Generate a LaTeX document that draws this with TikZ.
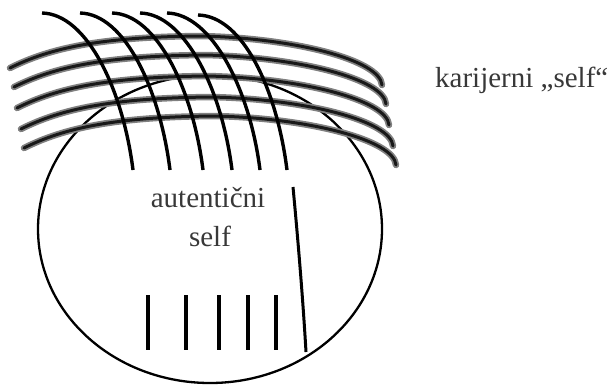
\documentclass[tikz,border=0pt]{standalone}
\usepackage{fontspec}
\setmainfont{Liberation Serif}
\newcommand\bandcurve{(10,68) .. controls (50,48) and (100,37) .. (200,36) .. controls (295,38) and (380,60) .. (382,85)}
\begin{document}
\begin{tikzpicture}[x=1pt,y=-1pt,
  ring/.style={line width=2.3pt,black},
  bandouter/.style={line width=6.5pt,black!50,line cap=round},
  bandinner/.style={line width=3pt,black!90,line cap=round},
  arcline/.style={line width=3.4pt,black},
  tick/.style={line width=3.4pt,black},
  txt/.style={font=\fontsize{29}{34}\selectfont,text=black!78,inner sep=0pt}]
\useasboundingbox (0,0) rectangle (613,384);
% authentic self ellipse
\draw[ring] (210,229) ellipse [x radius=172pt, y radius=154pt];
% career self bands
\foreach \dx/\dy in {0/0,4/19,7/40,11/61,14/80}{
  \draw[bandouter, shift={(\dx,\dy)}] \bandcurve;
  \draw[bandinner, shift={(\dx,\dy)}] \bandcurve;
}
% descending arcs
\foreach \xa/\ya/\xb in {42/13/133,80/13/170,112/13/203,140/13/232,167/13/260,198/15/287}{
  \draw[arcline] (\xa,\ya) .. controls ({\xa+45},{\ya+1}) and ({\xb-10},90) .. (\xb,170);
}
% short vertical lines
\foreach \x in {148,186,219,248,276}{
  \draw[tick] (\x,295) -- (\x,350);
}
% long right line
\coordinate (lt) at (293,187);
\coordinate (lb) at (306,352);
\draw[line width=3pt] (lt) .. controls (298,240) and (303,300) .. (lb);
% texts
\node[txt, anchor=base] (auth1) at (208,207) {autentični};
\node[txt, anchor=base] (auth2) at (210,246) {self};
\node[txt, anchor=base west] (career) at (435,87) {karijerni „self“};
\end{tikzpicture}
\end{document}
